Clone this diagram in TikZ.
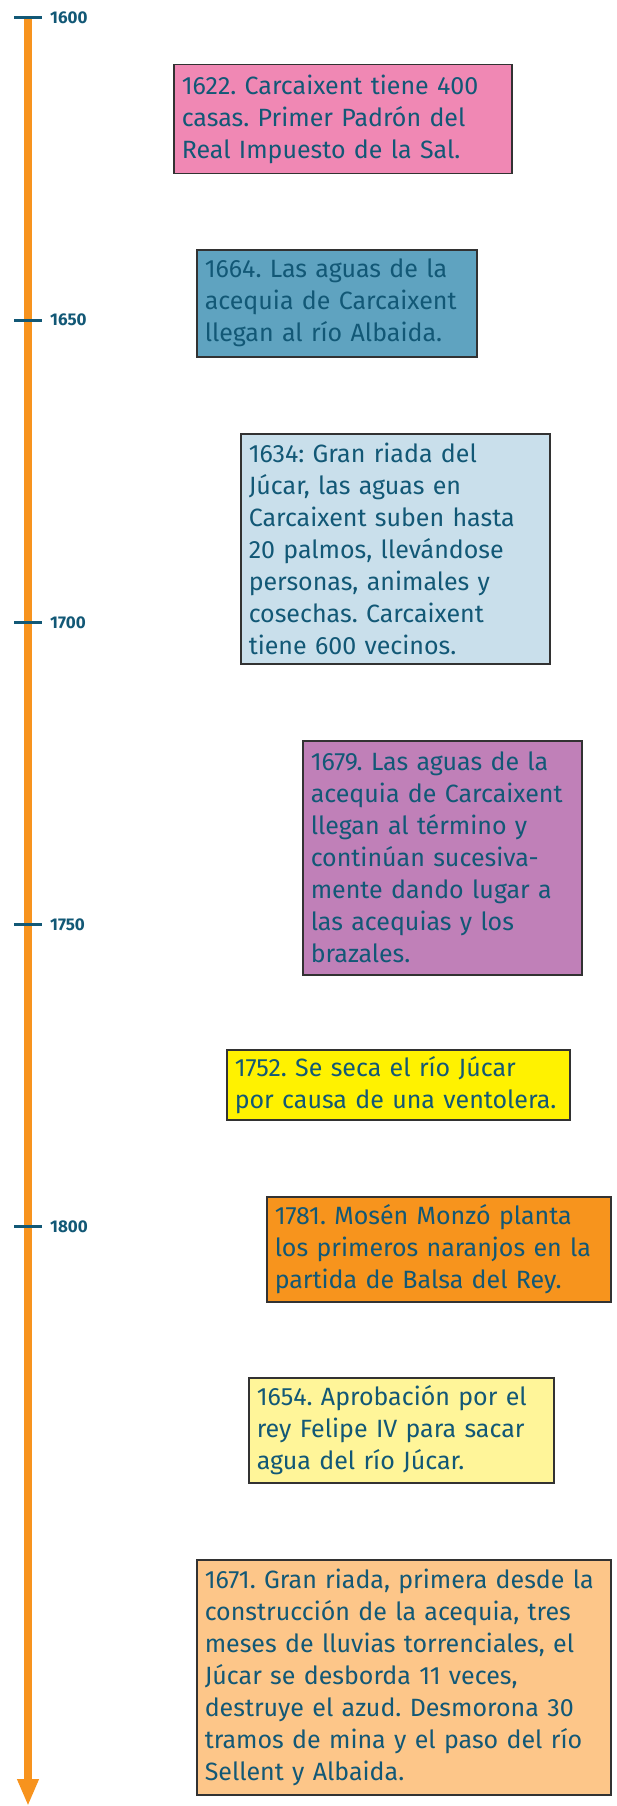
\documentclass[tikz,border=0pt]{standalone}
\usepackage{fontspec}
\setmainfont{Fira Sans}
\usetikzlibrary{positioning,arrows.meta}
\frenchspacing

\definecolor{axisorange}{RGB}{247,147,30}
\definecolor{tealtext}{RGB}{18,88,118}
\definecolor{boxline}{RGB}{50,50,50}
\definecolor{pinkbox}{RGB}{240,136,180}
\definecolor{bluebox}{RGB}{95,163,192}
\definecolor{paleblue}{RGB}{201,223,235}
\definecolor{purplebox}{RGB}{192,128,184}
\definecolor{yellowbox}{RGB}{255,242,0}
\definecolor{orangebox}{RGB}{247,148,29}
\definecolor{paleyellow}{RGB}{255,245,153}
\definecolor{peachbox}{RGB}{253,198,137}

\begin{document}
\begin{tikzpicture}[x=1pt, y=-1pt,
  eventbox/.style={draw=boxline, line width=1.5pt, anchor=north west, align=left,
    inner xsep=8pt, inner ysep=5pt, text=tealtext,
    font=\fontsize{25}{32}\selectfont},
  tickmark/.style={draw=tealtext, line width=3pt},
  yearlabel/.style={text=tealtext, inner sep=0pt, anchor=west,
    font=\bfseries\fontsize{17}{17}\selectfont}]
\useasboundingbox (0, 0) rectangle (616, 1806);
%Axis
\coordinate (axtop) at (28, 18);
\coordinate (axend) at (28, 1806);
\draw[axisorange, line width=8pt, -{Triangle[width=20pt, length=27pt]}] (axtop) -- (axend);
\foreach \yr [count=\i from 0] in {1600, 1650, 1700, 1750, 1800} {
  \coordinate (t\yr) at (28, 18+302.2*\i);
  \draw[tickmark] ([xshift=-14pt]t\yr) -- ([xshift=14pt]t\yr);
  \node[yearlabel, right=22pt of t\yr] (y\yr) {\yr};
}
%Events
\node[eventbox, fill=pinkbox, text width=322pt, minimum height=109pt] (ev1622) at (173, 64)
  {1622. Carcaixent tiene 400\\casas. Primer Padrón del\\Real Impuesto de la Sal.};
\node[eventbox, fill=bluebox, text width=264pt, minimum height=107pt] (ev1664) at (196, 249)
  {1664. Las aguas de la\\acequia de Carcaixent\\llegan al río Albaida.};
\node[eventbox, fill=paleblue, text width=293pt, minimum height=230pt] (ev1634) at (240, 433)
  {1634: Gran riada del\\Júcar, las aguas en\\Carcaixent suben hasta\\20 palmos, llevándose\\personas, animales y\\cosechas. Carcaixent\\tiene 600 vecinos.};
\node[eventbox, fill=purplebox, text width=263pt, minimum height=234pt] (ev1679) at (302, 740)
  {1679. Las aguas de la\\acequia de Carcaixent\\llegan al término y\\continúan sucesiva-\\mente dando lugar a\\las acequias y los\\brazales.};
\node[eventbox, fill=yellowbox, text width=327pt, minimum height=70pt] (ev1752) at (226, 1049)
  {1752. Se seca el río Júcar\\por causa de una ventolera.};
\node[eventbox, fill=orangebox, text width=328pt, minimum height=105pt] (ev1781) at (266, 1196)
  {1781. Mosén Monzó planta\\los primeros naranjos en la\\partida de Balsa del Rey.};
\node[eventbox, fill=paleyellow, text width=289pt, minimum height=105pt] (ev1654) at (248, 1377)
  {1654. Aprobación por el\\rey Felipe IV para sacar\\agua del río Júcar.};
\node[eventbox, fill=peachbox, text width=398pt, minimum height=235pt] (ev1671) at (196, 1559)
  {1671. Gran riada, primera desde la\\construcción de la acequia, tres\\meses de lluvias torrenciales, el\\Júcar se desborda 11 veces,\\destruye el azud. Desmorona 30\\tramos de mina y el paso del río\\Sellent y Albaida.};
\end{tikzpicture}
\end{document}
